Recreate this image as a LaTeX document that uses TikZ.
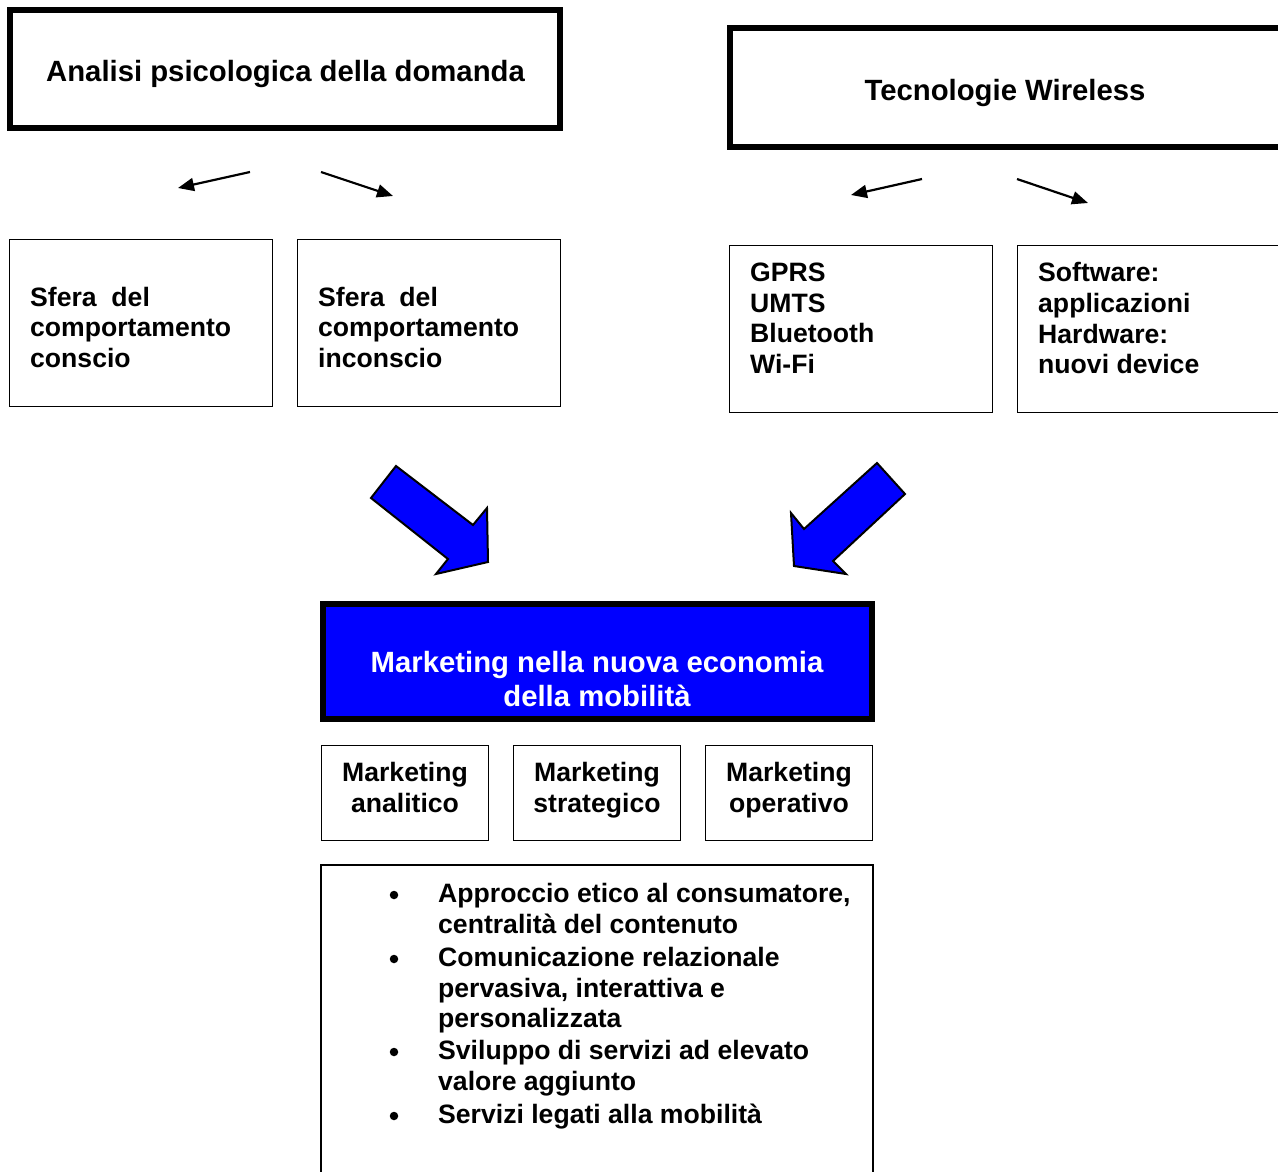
\documentclass[tikz,border=0pt]{standalone}
\usepackage{fontspec}
\setmainfont{Liberation Sans}
\usetikzlibrary{arrows.meta}
\begin{document}
\begin{tikzpicture}[x=1pt,y=-1pt,
  thickbox/.style={draw, line width=6pt, inner sep=0pt, outer sep=0pt},
  thinbox/.style={draw, line width=1.8pt, inner sep=0pt, outer sep=0pt},
  bigtxt/.style={font=\fontsize{29.3}{33.7}\selectfont\bfseries, inner sep=0pt, text depth=6.2pt},
  smalltxt/.style={font=\fontsize{26.6}{30.6}\selectfont\bfseries, inner sep=0pt, align=left, text depth=5.6pt},
  dot/.style={circle, fill=black, inner sep=0pt, minimum size=8.5pt},
  ptr/.style={line width=2.2pt, -{Triangle[length=16pt,width=13pt]}},
  bigarrow/.style={fill=blue, draw=black, line width=2pt, line join=miter}]
\useasboundingbox (0,0) rectangle (1278,1171);
\clip (0,0) rectangle (1278,1171);

% top headings
\node[thickbox, minimum width=550, minimum height=118] (psy) at (285,69) {};
\node[thickbox, minimum width=551.5, minimum height=118.5] (wifi) at (1005.25,87.25) {};
\node[bigtxt] (tpsy) at (285.5,74) {Analisi psicologica della domanda};
\node[bigtxt] (twifi) at (1005,93) {Tecnologie Wireless};

% small arrows under the headings
\coordinate (p1s) at (250,172); \coordinate (p1e) at (178,188);
\coordinate (p2s) at (321,172); \coordinate (p2e) at (393,196);
\coordinate (w1s) at (922,179); \coordinate (w1e) at (851,195);
\coordinate (w2s) at (1017,179); \coordinate (w2e) at (1088,203);
\draw[ptr] (p1s) -- (p1e);
\draw[ptr] (p2s) -- (p2e);
\draw[ptr] (w1s) -- (w1e);
\draw[ptr] (w2s) -- (w2e);

% second row boxes
\node[thinbox, minimum width=263, minimum height=167] (conscio) at (141,323) {};
\node[thinbox, minimum width=263, minimum height=167] (inconscio) at (429,323) {};
\node[thinbox, minimum width=263, minimum height=167] (reti) at (861,329) {};
\node[thinbox, minimum width=263, minimum height=167] (soft) at (1149,329) {};

\node[smalltxt, anchor=west] (tconscio) at (30,330) {Sfera\ \ del\\comportamento\\conscio};
\node[smalltxt, anchor=west] (tinconscio) at (318,330) {Sfera\ \ del\\comportamento\\inconscio};
\node[smalltxt, anchor=west] (treti) at (750,321) {GPRS\\UMTS\\Bluetooth\\Wi-Fi};
\node[smalltxt, anchor=west] (tsoft) at (1038,321) {Software:\\applicazioni\\Hardware:\\nuovi device};

% block arrows
\draw[bigarrow] (396,466) -- (473,525) -- (487,508) -- (488,562) -- (436,574) -- (448,559) -- (371,498) -- cycle;
\draw[bigarrow] (877,463) -- (905,494) -- (833,561) -- (846,574) -- (794,566) -- (791,513) -- (804,529) -- cycle;

% central box
\node[thickbox, fill=blue, minimum width=549, minimum height=115] (mkt) at (597,661) {};
\node[bigtxt, text=white, align=center] (tmkt) at (597,682) {Marketing nella nuova economia\\della mobilità};

% three marketing boxes
\node[thinbox, minimum width=167, minimum height=95] (m1) at (405,793) {};
\node[thinbox, minimum width=167, minimum height=95] (m2) at (597,793) {};
\node[thinbox, minimum width=167, minimum height=95] (m3) at (789,793) {};
\node[smalltxt, align=center] (tm1) at (405,790) {Marketing\\analitico};
\node[smalltxt, align=center] (tm2) at (597,790) {Marketing\\strategico};
\node[smalltxt, align=center] (tm3) at (789,790) {Marketing\\operativo};

% bullet list box
\node[thinbox, minimum width=552, minimum height=330] (lista) at (597,1030) {};
\node[dot] (b1) at (394,895) {};
\node[dot] (b2) at (394,959) {};
\node[dot] (b3) at (394,1052) {};
\node[dot] (b4) at (394,1116) {};
\node[smalltxt, anchor=west] (i1) at (438,911) {Approccio etico al consumatore,\\centralità del contenuto};
\node[smalltxt, anchor=west] (i2) at (438,990.3) {Comunicazione relazionale\\pervasiva, interattiva e\\personalizzata};
\node[smalltxt, anchor=west] (i3) at (438,1068) {Sviluppo di servizi ad elevato\\valore aggiunto};
\node[smalltxt, anchor=west] (i4) at (438,1116.7) {Servizi legati alla mobilità};
\end{tikzpicture}
\end{document}
